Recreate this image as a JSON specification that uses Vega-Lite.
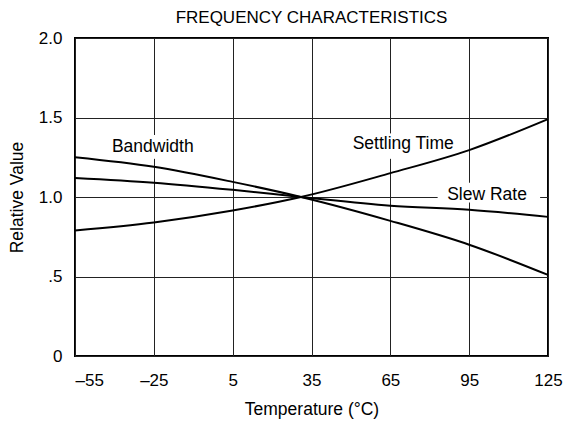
{
  "$schema": "https://vega.github.io/schema/vega-lite/v6.json",
  "autosize": {"type": "none"},
  "padding": {"left": 75, "top": 38, "right": 18, "bottom": 66},
  "width": 473,
  "height": 318,
  "title": {"text": "FREQUENCY CHARACTERISTICS", "anchor": "middle", "font": "Liberation Sans", "fontSize": 17, "fontWeight": "normal", "color": "black", "offset": 2},
  "config": {
    "view": {"stroke": "black", "strokeWidth": 2},
    "axis": {"labelFont": "Liberation Sans", "labelFontSize": 17, "labelColor": "black", "titleFont": "Liberation Sans", "titleFontSize": 17.5, "titleFontWeight": "normal", "titleColor": "black", "ticks": false, "domain": false, "grid": true, "gridColor": "#222222", "gridWidth": 1, "gridOpacity": 1}
  },
  "datasets": {
    "curves": [
      {"series": "Bandwidth", "t": -55, "v": 1.25},
      {"series": "Bandwidth", "t": -25, "v": 1.19},
      {"series": "Bandwidth", "t": 5, "v": 1.095},
      {"series": "Bandwidth", "t": 31, "v": 1.0},
      {"series": "Bandwidth", "t": 65, "v": 0.85},
      {"series": "Bandwidth", "t": 95, "v": 0.70},
      {"series": "Bandwidth", "t": 125, "v": 0.51},
      {"series": "Slew Rate", "t": -55, "v": 1.12},
      {"series": "Slew Rate", "t": -25, "v": 1.09},
      {"series": "Slew Rate", "t": 5, "v": 1.045},
      {"series": "Slew Rate", "t": 31, "v": 1.0},
      {"series": "Slew Rate", "t": 65, "v": 0.945},
      {"series": "Slew Rate", "t": 95, "v": 0.92},
      {"series": "Slew Rate", "t": 125, "v": 0.875},
      {"series": "Settling Time", "t": -55, "v": 0.79},
      {"series": "Settling Time", "t": -25, "v": 0.84},
      {"series": "Settling Time", "t": 5, "v": 0.915},
      {"series": "Settling Time", "t": 31, "v": 1.0},
      {"series": "Settling Time", "t": 65, "v": 1.15},
      {"series": "Settling Time", "t": 95, "v": 1.295},
      {"series": "Settling Time", "t": 125, "v": 1.49}
    ],
    "labels": [
      {"label": "Bandwidth", "t": -25.4, "v": 1.314, "t1": -30, "t2": -20, "v1": 1.24, "v2": 1.39},
      {"label": "Settling Time", "t": 69.9, "v": 1.333, "t1": 60, "t2": 70, "v1": 1.24, "v2": 1.40},
      {"label": "Slew Rate", "t": 101.8, "v": 1.01, "t1": 83, "t2": 122, "v1": 0.965, "v2": 1.09}
    ]
  },
  "layer": [
    {
      "data": {"name": "curves"},
      "mark": {"type": "line", "interpolate": "monotone", "color": "black", "strokeWidth": 2},
      "encoding": {
        "x": {"field": "t", "type": "quantitative", "scale": {"domain": [-55, 125], "nice": false, "zero": false},
          "axis": {"title": "Temperature (°C)", "values": [-55, -25, 5, 35, 65, 95, 125], "labelExpr": "replace(datum.label, '−', '–')", "labelFlush": false, "labelAlign": {"condition": {"test": "datum.value == -55", "value": "left"}, "value": "center"}, "labelPadding": 16, "titlePadding": 12}},
        "y": {"field": "v", "type": "quantitative", "scale": {"domain": [0, 2], "nice": false},
          "axis": {"title": "Relative Value", "values": [0, 0.5, 1, 1.5, 2], "labelExpr": "datum.value == 0 ? '0' : datum.value == 0.5 ? '.5' : format(datum.value, '.1f')", "labelPadding": 13, "titlePadding": 12}},
        "detail": {"field": "series"}
      }
    },
    {
      "data": {"name": "labels"},
      "mark": {"type": "rect", "color": "white"},
      "encoding": {
        "x": {"field": "t1", "type": "quantitative"},
        "x2": {"field": "t2"},
        "y": {"field": "v1", "type": "quantitative"},
        "y2": {"field": "v2"}
      }
    },
    {
      "data": {"name": "labels"},
      "mark": {"type": "text", "font": "Liberation Sans", "fontSize": 17.5, "color": "black"},
      "encoding": {
        "x": {"field": "t", "type": "quantitative"},
        "y": {"field": "v", "type": "quantitative"},
        "text": {"field": "label"}
      }
    }
  ]
}
